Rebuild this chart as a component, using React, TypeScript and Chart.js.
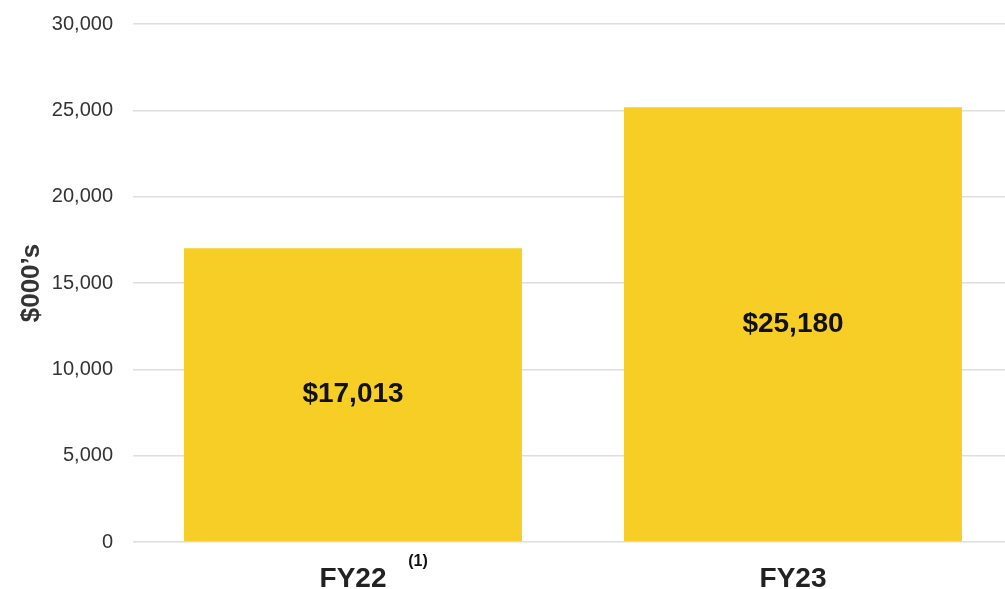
import React, { useEffect, useRef } from "react";
import { Chart, registerables } from "chart.js";

Chart.register(...registerables);

const categories = ["FY22", "FY23"];
const values = [17013, 25180];
const valueLabels = ["$17,013", "$25,180"];
const footnotes = ["(1)", ""];
const yTitle = "$000\u2019s";

const FONT = "'Liberation Sans', Arial, Helvetica, sans-serif";
const NARROW = "'Liberation Sans Narrow', 'Arial Narrow', 'Liberation Sans', Arial, sans-serif";

const barLabelPlugin = {
  id: "barLabels",
  afterDatasetsDraw(chart: any) {
    const ctx = chart.ctx;
    const meta = chart.getDatasetMeta(0);
    ctx.save();
    ctx.font = `bold 28px ${FONT}`;
    ctx.fillStyle = "#111111";
    ctx.textAlign = "center";
    ctx.textBaseline = "middle";
    meta.data.forEach((bar: any, i: number) => {
      const y = (bar.y + bar.base) / 2;
      ctx.fillText(valueLabels[i], bar.x, y);
    });
    const xs = chart.scales.x;
    ctx.font = `bold 16px ${FONT}`;
    footnotes.forEach((f, i) => {
      if (!f) return;
      const x = xs.getPixelForTick(i);
      ctx.fillText(f, x + 65, xs.top + 20);
    });
    ctx.restore();
  },
};

export default function App() {
  const ref = useRef<HTMLCanvasElement>(null);
  useEffect(() => {
    if (!ref.current) return;
    const chart = new Chart(ref.current, {
      type: "bar",
      data: {
        labels: categories,
        datasets: [
          {
            data: values,
            backgroundColor: "#F6CE25",
            borderWidth: 0,
            categoryPercentage: 1,
            barPercentage: 0.768,
          },
        ],
      },
      options: {
        animation: false,
        responsive: true,
        maintainAspectRatio: false,
        layout: { padding: { top: 24, right: 0, left: 0, bottom: 0 } },
        plugins: {
          legend: { display: false },
          tooltip: { enabled: false },
        },
        scales: {
          x: {
            grid: { display: false, drawTicks: false },
            border: { display: false },
            ticks: {
              color: "#222222",
              font: { family: FONT, size: 28, weight: "bold" },
              padding: 20,
            },
            afterFit(scale: any) {
              scale.height = 47;
              scale.paddingLeft = 0;
              scale.paddingRight = 0;
            },
          },
          y: {
            min: 0,
            max: 30000,
            ticks: {
              stepSize: 5000,
              color: "#333333",
              font: { family: FONT, size: 20 },
              padding: 20,
              callback: (v: any) => Number(v).toLocaleString("en-US"),
            },
            grid: { color: "#dedede", lineWidth: 1.5, drawTicks: false },
            border: { display: false },
            title: {
              display: true,
              text: yTitle,
              color: "#333333",
              font: { family: NARROW, size: 26, weight: "bold" },
              padding: { top: 16, bottom: 0 },
            },
            afterFit(scale: any) {
              scale.width = 133;
              scale.paddingTop = 0;
              scale.paddingBottom = 0;
            },
          },
        },
      },
      plugins: [barLabelPlugin],
    });
    return () => chart.destroy();
  }, []);
  return (
    <div
      style={{
        position: "fixed",
        left: 0,
        top: 0,
        width: 1005,
        height: 589,
        overflow: "hidden",
        background: "#ffffff",
      }}
    >
      <div style={{ position: "relative", width: 1013, height: 589 }}>
        <canvas ref={ref} />
      </div>
    </div>
  );
}
